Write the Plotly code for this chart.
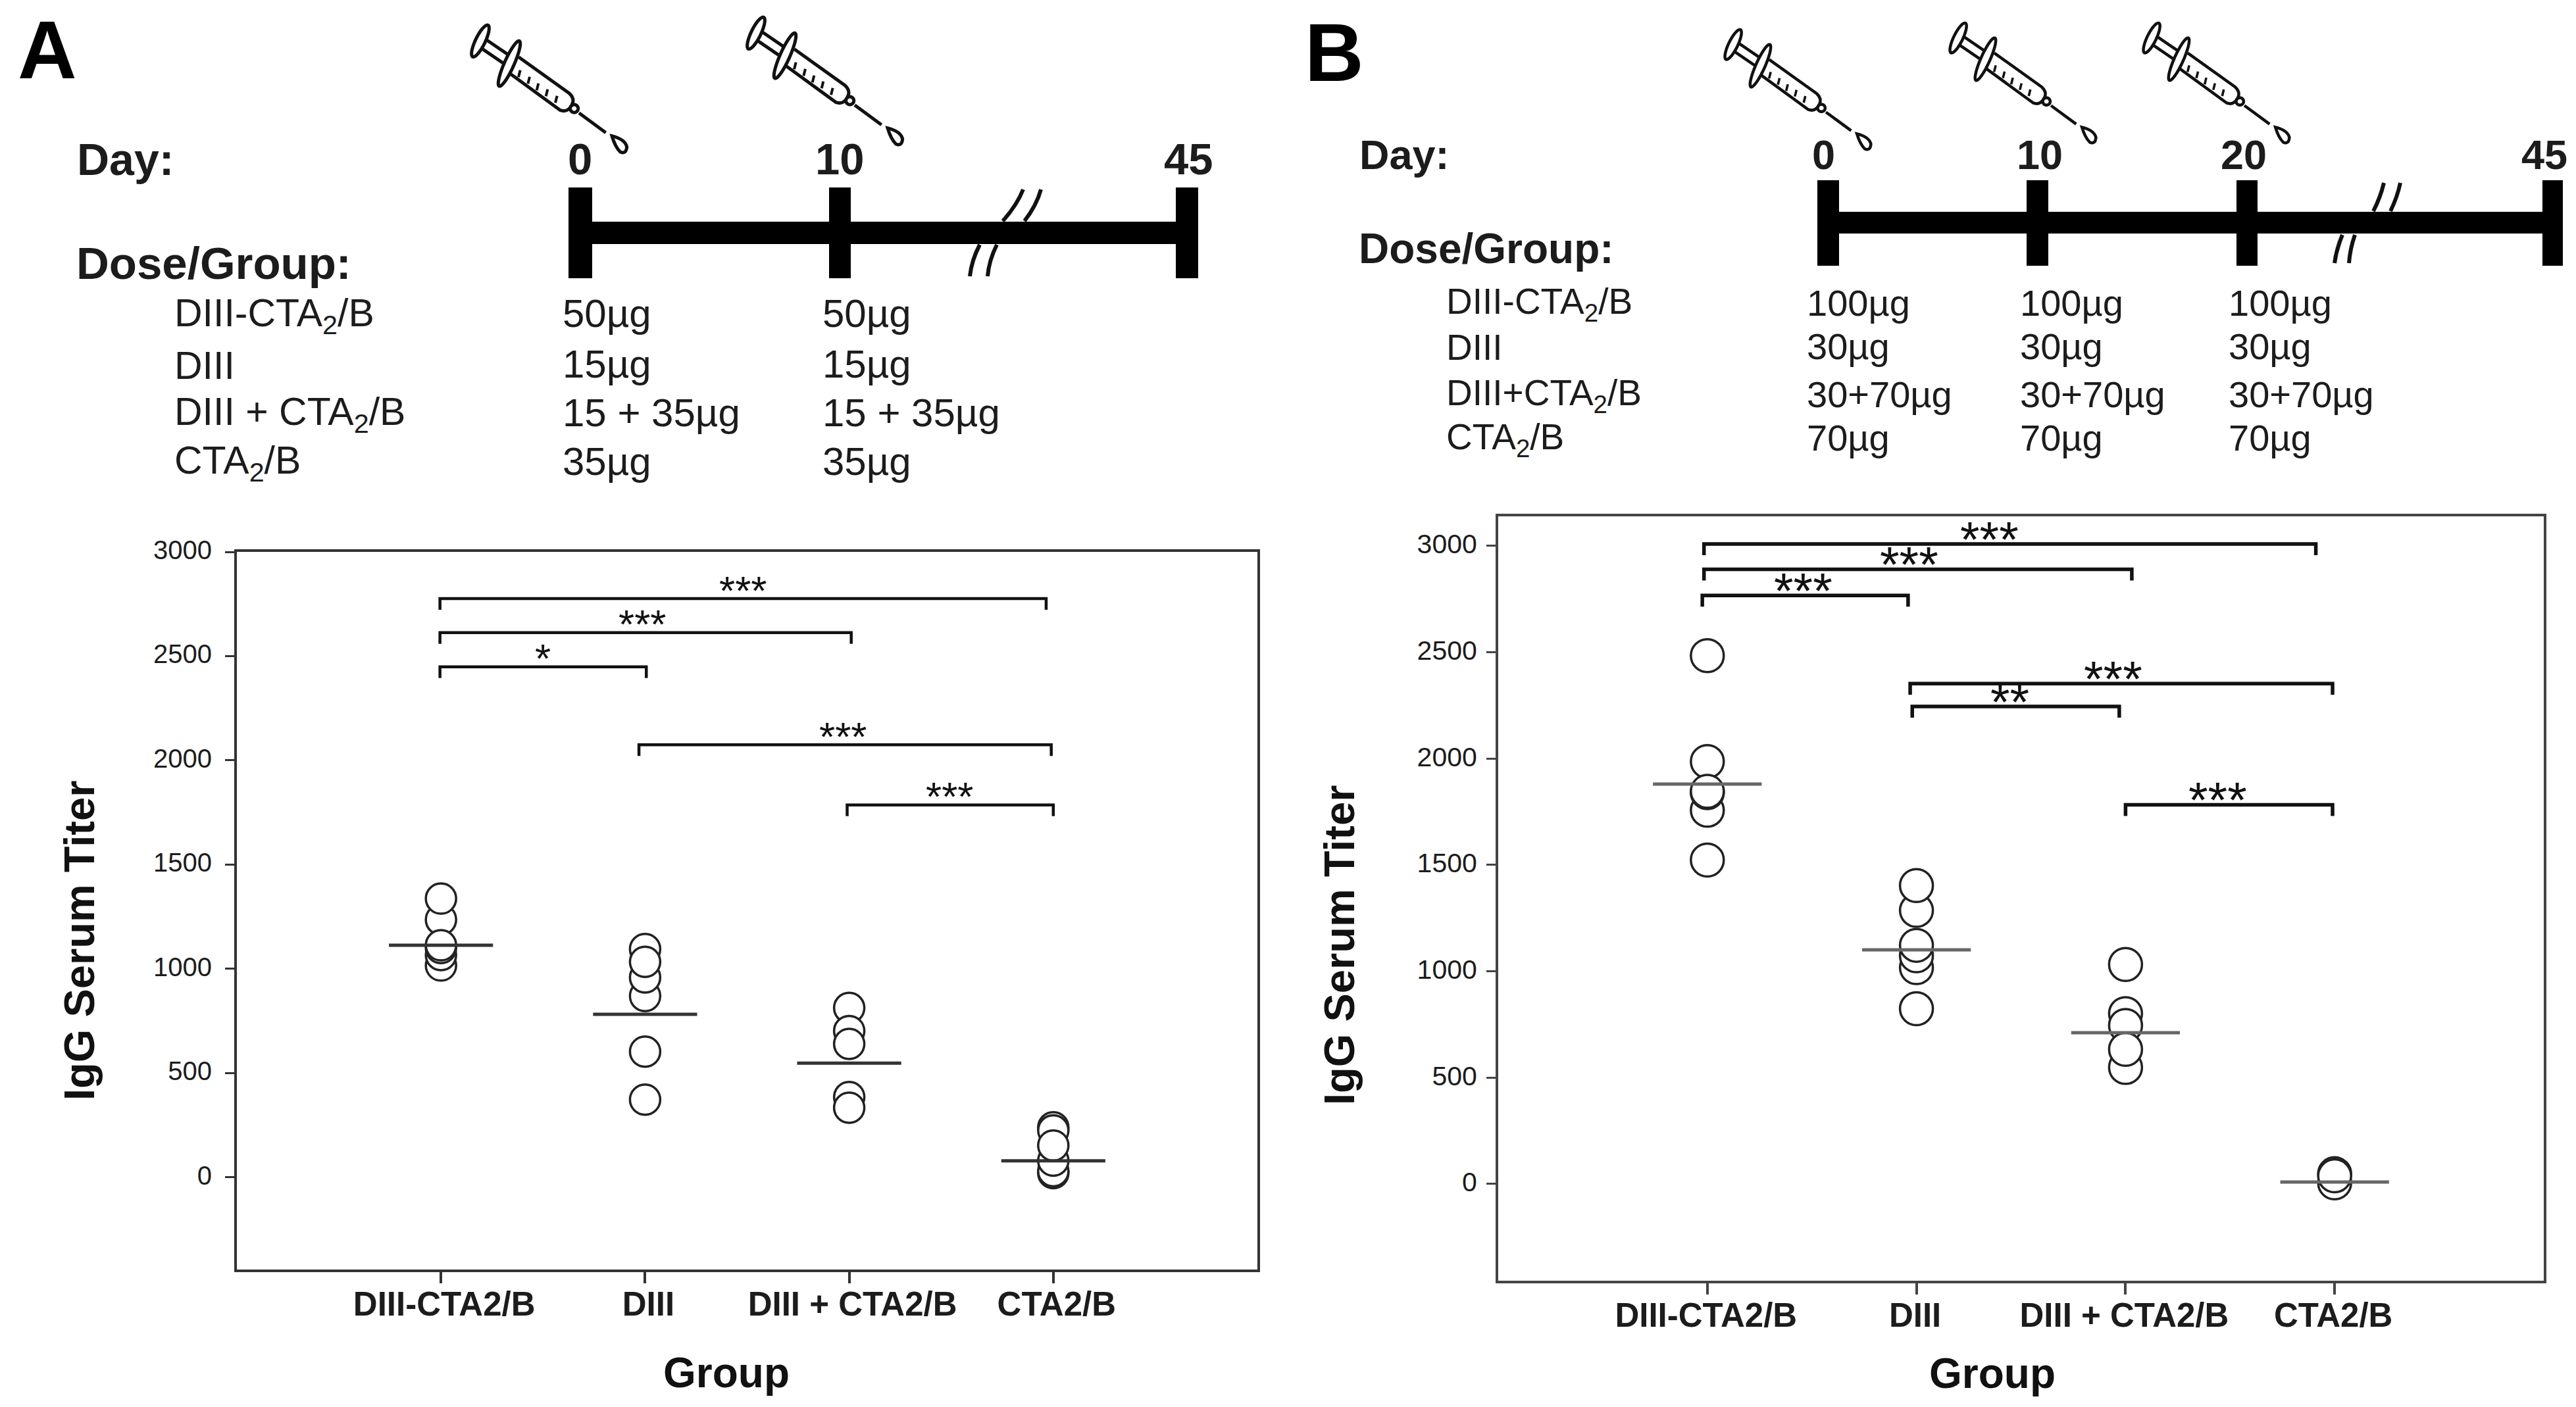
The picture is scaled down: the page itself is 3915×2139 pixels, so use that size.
import math
import plotly.graph_objects as go

W, H = 3915, 2139
FONT = "Liberation Sans"
INK = "#1c1c1c"

# ---------- data ----------
groups = ["DIII-CTA2/B", "DIII", "DIII + CTA2/B", "CTA2/B"]
group_pos = [1, 2, 3, 4]
y_ticks = [0, 500, 1000, 1500, 2000, 2500, 3000]

a_g1 = [1016, 1066, 1100, 1236, 1337, 1113]
a_g2 = [373, 603, 870, 959, 1095, 1034]
a_g3 = [385, 334, 813, 702, 640]
a_g4 = [20, 30, 80, 240, 225, 153]
a_means = [1113, 782, 548, 79]
a_brackets_from = [0.995, 0.995, 0.995, 1.97, 2.99]
a_brackets_to = [3.965, 3.01, 2.006, 3.99, 4.0]
a_brackets_level = [2776, 2613, 2449, 2075, 1786]
a_stars = ["***", "***", "*", "***", "***"]
a_stars_x = [2.48, 1.985, 1.50, 2.97, 3.49]

b_g1 = [1523, 1757, 1840, 2484, 1986, 1846]
b_g2 = [824, 1017, 1073, 1286, 1403, 1122]
b_g3 = [548, 801, 1032, 745, 633]
b_g4 = [5, 48, 38]
b_means = [1880, 1101, 711, 9]
b_brackets_from = [0.984, 0.984, 0.976, 1.97, 1.98, 3.0]
b_brackets_to = [3.91, 3.03, 1.96, 3.99, 2.97, 3.99]
b_brackets_level = [3009, 2890, 2767, 2353, 2245, 1783]
b_stars = ["***", "***", "***", "***", "**", "***"]
b_stars_x = [2.35, 1.965, 1.46, 2.94, 2.447, 3.44]

a_days = ["0", "10", "45"]
b_days = ["0", "10", "20", "45"]
a_dose_groups = ["DIII-CTA<sub>2</sub>/B", "DIII", "DIII + CTA<sub>2</sub>/B", "CTA<sub>2</sub>/B"]
a_doses = ["50µg", "15µg", "15 + 35µg", "35µg"]
b_dose_groups = ["DIII-CTA<sub>2</sub>/B", "DIII", "DIII+CTA<sub>2</sub>/B", "CTA<sub>2</sub>/B"]
b_doses = ["100µg", "30µg", "30+70µg", "70µg"]

# ---------- helpers ----------
def px(x):
    return x / W
def py(y):
    return 1 - y / H

annotations, shapes = [], []

def text(x, y, s, size, bold=False, anchor="left", color=INK, angle=0):
    annotations.append(dict(
        x=px(x), y=py(y), xref="paper", yref="paper", text=f"<b>{s}</b>" if bold else s,
        showarrow=False, xanchor=anchor, yanchor="middle", textangle=angle,
        font=dict(family=FONT, size=size, color=color)))

def rect(x0, y0, x1, y1):
    shapes.append(dict(type="rect", xref="paper", yref="paper", x0=px(x0), x1=px(x1),
                       y0=py(y0), y1=py(y1), fillcolor="#000", line=dict(width=0)))

def P(x, y):
    return f"{px(x):.6f},{py(y):.6f}"

def stroke(d, width, fill=None, color="#111"):
    s = dict(type="path", xref="paper", yref="paper", path=d, line=dict(color=color, width=width))
    if fill:
        s["fillcolor"] = fill
    shapes.append(s)

def slash(x0, y0, x1, y1, bend, width=6):
    cx, cy = (x0 + x1) / 2 + bend, (y0 + y1) / 2
    stroke(f"M{P(x0,y0)} Q{P(cx,cy)} {P(x1,y1)}", width)

def syringe(left, top, s, width):
    def T(a, b):
        return (left + (a - 95) / 3 * s, top + (b - 40) / 3 * s)
    def Pt(a, b):
        return P(*T(a, b))
    def ellipse(cx, cy, tipx, tipy, minor):
        mx, my = tipx - cx, tipy - cy
        L = math.hypot(mx, my)
        nx, ny = -my / L, mx / L
        pts = []
        for i in range(36):
            t = 2 * math.pi * i / 36
            pts.append(Pt(cx + mx * math.cos(t) + nx * minor * math.sin(t),
                          cy + my * math.cos(t) + ny * minor * math.sin(t)))
        return "M" + " L".join(pts) + " Z"
    stroke(f"M{Pt(170,118)} L{Pt(268,185)} M{Pt(145,155)} L{Pt(243,222)}", width)
    stroke(ellipse(140, 122, 175, 50, 22), width, "#fff")
    barrel = (f"M{Pt(315,195)} L{Pt(545,360)} Q{Pt(572,385)} {Pt(558,412)} "
              f"Q{Pt(540,450)} {Pt(505,438)} L{Pt(275,270)}")
    stroke(barrel, width)
    stroke(ellipse(272, 225, 318, 122, 22), width, "#fff")
    for a, b in [(322, 255), (365, 285), (405, 315), (447, 342), (490, 372)]:
        stroke(f"M{Pt(a,b)} L{Pt(a-8,b+32)}", width * 0.8)
    stroke(ellipse(568, 430, 586, 430, 18), width, "#fff")
    stroke(f"M{Pt(590,450)} L{Pt(712,540)}", width)
    stroke(f"M{Pt(740,555)} Q{Pt(800,570)} {Pt(808,605)} Q{Pt(805,640)} {Pt(778,628)} "
           f"Q{Pt(755,605)} {Pt(740,555)} Z", width, "#fff")

fig = go.Figure()

def panel(suffix, frame, yrange, series, means, bfrom, bto, blevel, stars, stars_x, diam,
          mean_half, mean_color, mean_w, star_size, star_shift, frame_w, frame_c,
          tick_size, cat_size, shift, standoff, y_standoff, bracket_w):
    xa, ya = "x" + suffix, "y" + suffix
    l, t, r, b = frame
    for pos, vals in zip(group_pos, series):
        fig.add_trace(go.Scatter(
            x=[pos] * len(vals), y=vals, mode="markers", xaxis=xa, yaxis=ya,
            marker=dict(symbol="circle", size=diam, color="#fff",
                        line=dict(color="#222", width=3.5)), showlegend=False))
    for pos, m in zip(group_pos, means):
        fig.add_trace(go.Scatter(
            x=[pos - mean_half, pos + mean_half], y=[m, m], mode="lines", xaxis=xa, yaxis=ya,
            line=dict(color=mean_color, width=mean_w), showlegend=False))
    cap = 17 / ((b - t) / (yrange[1] - yrange[0]))
    for x0, x1, lev, st, sx in zip(bfrom, bto, blevel, stars, stars_x):
        fig.add_trace(go.Scatter(
            x=[x0, x0, x1, x1], y=[lev - cap, lev, lev, lev - cap], mode="lines", xaxis=xa, yaxis=ya,
            line=dict(color="#111", width=bracket_w), showlegend=False))
        annotations.append(dict(
            x=sx, y=lev, xref=xa, yref=ya, text=st, showarrow=False, xanchor="center",
            yanchor="middle", yshift=star_shift, font=dict(family=FONT, size=star_size, color="#111")))
    name = suffix
    axis_common = dict(showgrid=False, zeroline=False, showline=True, mirror=True, automargin=False,
                       linecolor=frame_c, linewidth=frame_w, ticks="outside", tickcolor=frame_c)
    fig.update_layout({
        "xaxis" + name: dict(domain=[px(l), px(r)], range=[0, 5], anchor=ya, tickvals=group_pos,
                             ticktext=[f"<b>{g}</b>" for g in groups], ticklen=17, tickwidth=4,
                             tickangle=0, ticklabelshift=shift, ticklabelstandoff=standoff,
                             tickfont=dict(family=FONT, size=cat_size, color=INK), **axis_common),
        "yaxis" + name: dict(domain=[py(b), py(t)], range=yrange, anchor=xa, tickvals=y_ticks,
                             ticklen=14, tickwidth=3, ticklabelshift=-3, ticklabelstandoff=y_standoff,
                             tickfont=dict(family=FONT, size=tick_size, color=INK), **axis_common),
    })

panel("", (360, 839, 1911, 1930), [-442, 3000], [a_g1, a_g2, a_g3, a_g4], a_means,
      a_brackets_from, a_brackets_to, a_brackets_level, a_stars, a_stars_x,
      46, 0.255, "#333", 5, 62, 13, 4, "#333", 40, 51, 5, -12, 12, 4.5)
panel("2", (2277, 785, 3866, 1947), [-455, 3139], [b_g1, b_g2, b_g3, b_g4], b_means,
      b_brackets_from, b_brackets_to, b_brackets_level, b_stars, b_stars_x,
      50, 0.26, "#666", 5, 76, 8, 4, "#444", 41, 51, -2, -12, 6, 5.5)

# axis titles
text(120, 1430, "IgG Serum Titer", 65, True, "center", "#111", -90)
text(1104, 2087, "Group", 64, True, "center", "#111")
text(2035, 1437, "IgG Serum Titer", 65, True, "center", "#111", -90)
text(3028, 2088, "Group", 64, True, "center", "#111")

# panel letters
text(72, 76, "A", 124, True, "center", "#000")
text(2028, 80, "B", 124, True, "center", "#000")

# schedule A
text(115, 242, "Day:", 68, True)
text(114, 400, "Dose/Group:", 69, True)
for s, x in zip(a_days, [881, 1276, 1806]):
    text(x, 241, s, 67, True, "center")
rect(864, 337, 1821, 371)
for x0, x1 in [(864, 900), (1260, 1293), (1787, 1821)]:
    rect(x0, 285, x1, 423)
slash(1555, 288, 1524, 336, 6); slash(1582, 288, 1557, 336, 6)
slash(1489, 372, 1474, 420, -5); slash(1515, 372, 1501, 420, -5)
for s, d, y in zip(a_dose_groups, a_doses, [480, 556, 630, 704]):
    text(263, y, s, 59)
    text(853, y - 3, d, 60)
    text(1248, y - 3, d, 60)
syringe(715, 35, 1.0, 5)
syringe(1134, 23, 1.0, 5)

# schedule B
text(2064, 235, "Day:", 63, True)
text(2063, 378, "Dose/Group:", 64, True)
for s, x in zip(b_days, [2771, 3100, 3410, 3867]):
    text(x, 235, s, 63, True, "center")
rect(2762, 322, 3895, 355)
for x0, x1 in [(2762, 2795), (3080, 3113), (3399, 3431), (3864, 3895)]:
    rect(x0, 274, x1, 404)
slash(3648, 278, 3633, 321, 3); slash(3623, 278, 3607, 321, 3)
slash(3579, 357, 3570, 400, -3); slash(3560, 357, 3548, 400, -3)
for s, d, y in zip(b_dose_groups, b_doses, [462, 528, 601, 668]):
    text(2196, y, s, 55)
    for x in [2744, 3068, 3385]:
        text(x, y - 2, d, 56)
for left, top in [(2620, 42), (2962, 32), (3256, 32)]:
    syringe(left, top, 0.94, 4.5)

fig.update_layout(width=W, height=H, margin=dict(l=0, r=0, t=0, b=0), autosize=False,
                  paper_bgcolor="#fff", plot_bgcolor="#fff", showlegend=False,
                  annotations=annotations, shapes=shapes)
fig.write_html("out.html", config={"displayModeBar": False},
               post_script="document.documentElement.style.margin='0';document.body.style.margin='0';document.body.style.padding='0';")
